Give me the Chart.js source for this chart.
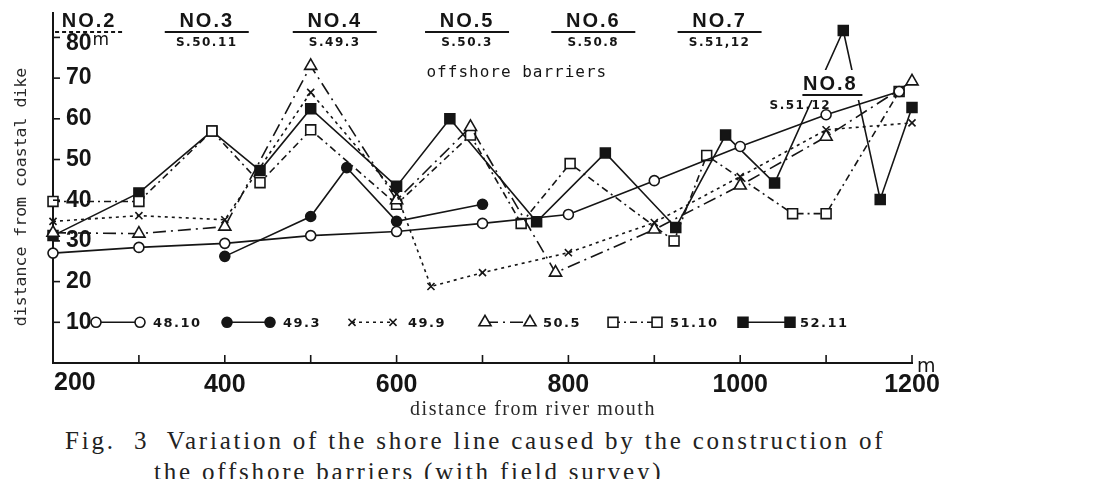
<!DOCTYPE html>
<html>
<head>
<meta charset="utf-8">
<script src="https://cdn.jsdelivr.net/npm/chart.js@4"></script>
<style>
  html, body { margin: 0; padding: 0; background: #fff; width: 1106px; height: 479px; overflow: hidden; }
  #wrap { position: relative; width: 1106px; height: 420px; }
  .cap { position: absolute; font-family: 'Liberation Serif', serif; font-size: 25px; line-height: 1;
         letter-spacing: 2.8px; color: #222; white-space: nowrap; }
</style>
</head>
<body>
<div id="wrap"><canvas id="c" width="1106" height="420"></canvas></div>
<div class="cap" style="left:65px; top:428px">Fig.&nbsp; 3&nbsp; Variation of the shore line caused by the construction of</div>
<div class="cap" style="left:154px; top:459px">the offshore barriers (with field survey)</div>
<script>
// survey dates (Showa year.month) and readings: distance from river mouth (m) -> distance from dike (m)
const seriesNames = ['48.10', '49.3', '49.9', '50.5', '51.10', '52.11'];

const x4810 = [200, 300, 400, 500, 600, 700, 800, 900, 1000, 1100, 1185];
const y4810 = [27, 28.4, 29.4, 31.3, 32.3, 34.3, 36.5, 44.8, 53.2, 61, 66.7];

const x493 = [400, 500, 542, 600, 700];
const y493 = [26.2, 36, 48, 34.8, 39];

const x499 = [200, 300, 400, 500, 600, 640, 700, 800, 900, 1000, 1100, 1200];
const y499 = [34.8, 36.2, 35.2, 66.5, 41.5, 18.8, 22.2, 27.1, 34.5, 45.8, 57.3, 59];

const x505 = [200, 300, 400, 500, 600, 686, 785, 900, 1000, 1100, 1200];
const y505 = [32, 31.8, 33.5, 73, 40, 58, 22.2, 32.8, 43.6, 55.6, 69.2];

const x5110 = [200, 300, 385, 441, 500, 600, 686, 745, 802, 923, 961, 1061, 1100, 1185];
const y5110 = [39.7, 39.7, 57, 44.3, 57.3, 39, 56, 34.3, 49, 30, 51, 36.7, 36.7, 66.7];

const x5211 = [200, 300, 385, 441, 500, 600, 662, 763, 843, 925, 983, 1040, 1120, 1163, 1200];
const y5211 = [31.3, 41.8, 57, 47.3, 62.5, 43.4, 60, 34.7, 51.6, 33.3, 56, 44.2, 81.7, 40.2, 62.8];

const xTicks = [200, 400, 600, 800, 1000, 1200];
const xMinor = [300, 500, 700, 900, 1100];
const yTicks = [10, 20, 30, 40, 50, 60, 70, 80];

// offshore barriers: name, completion date, location along the shore (m)
const barrierNames = ['NO.2', 'NO.3', 'NO.4', 'NO.5', 'NO.6', 'NO.7', 'NO.8'];
const barrierDates = ['', 'S.50.11', 'S.49.3', 'S.50.3', 'S.50.8', 'S.51,12', 'S.51.12'];
const barrierAt = [242, 379, 528, 682, 829, 976, 1105];

const ink = '#151515';
const tickFont = '"Liberation Sans", Arial, sans-serif';

const looks = [
  { pointStyle: 'circle',   filled: false, dash: [],            radius: 5 },
  { pointStyle: 'circle',   filled: true,  dash: [],            radius: 5 },
  { pointStyle: 'crossRot', filled: false, dash: [3, 4],        radius: 5 },
  { pointStyle: 'triangle', filled: false, dash: [13, 5, 2, 5], radius: 7 },
  { pointStyle: 'rect',     filled: false, dash: [7, 4, 2, 4],  radius: 7 },
  { pointStyle: 'rect',     filled: true,  dash: [],            radius: 7 },
];

const allX = [x4810, x493, x499, x505, x5110, x5211];
const allY = [y4810, y493, y499, y505, y5110, y5211];

const datasets = seriesNames.map((name, i) => ({
  label: name,
  data: allX[i].map((v, k) => ({ x: v, y: allY[i][k] })),
  borderColor: ink,
  borderWidth: 1.6,
  borderDash: looks[i].dash,
  pointStyle: looks[i].pointStyle,
  pointRadius: looks[i].radius,
  pointBorderColor: ink,
  pointBorderWidth: 1.6,
  pointBackgroundColor: looks[i].filled ? ink : '#fff',
  tension: 0,
  fill: false,
  clip: false,
}));

function marker(ctx, look, px, py) {
  ctx.save();
  ctx.setLineDash([]);
  ctx.fillStyle = look.filled ? ink : '#fff';
  ctx.strokeStyle = ink;
  ctx.lineWidth = 1.6;
  Chart.helpers.drawPoint(ctx, { pointStyle: look.pointStyle, radius: look.radius, rotation: 0, borderWidth: 1.6 }, px, py);
  ctx.restore();
}

// legend slots in pixels: first marker, second marker, text start
const legendSlots = [[96, 140, 153], [227, 270, 283], [352, 393, 408], [485, 530, 543], [613, 657, 670], [743, 790, 800]];

const overlay = {
  id: 'overlay',
  afterDatasetsDraw(chart) {
    const { ctx, chartArea: a, scales: { x, y } } = chart;
    ctx.save();
    ctx.strokeStyle = ink;
    ctx.fillStyle = ink;
    ctx.lineWidth = 1.6;
    ctx.setLineDash([]);

    // inward tick marks
    y.ticks.forEach(t => {
      if (t.value <= 0) return;
      const py = y.getPixelForValue(t.value);
      ctx.beginPath(); ctx.moveTo(a.left, py); ctx.lineTo(a.left + 7, py); ctx.stroke();
    });
    x.ticks.forEach(t => {
      if (t.value <= 200) return;
      const px = x.getPixelForValue(t.value);
      ctx.beginPath(); ctx.moveTo(px, a.bottom); ctx.lineTo(px, a.bottom - 8); ctx.stroke();
    });

    // first x label sits right of the corner
    ctx.font = 'bold 25px ' + tickFont;
    ctx.textAlign = 'left';
    ctx.textBaseline = 'middle';
    ctx.fillText(String(xTicks[0]), a.left + 1, a.bottom + 20);

    // top y label carries the unit, set a little lower under the NO.2 mark
    const topTick = yTicks[yTicks.length - 1];
    const ty80 = y.getPixelForValue(topTick) + 6;
    ctx.font = 'bold 23px ' + tickFont;
    ctx.fillText(String(topTick), a.left + 13, ty80);
    const w80 = ctx.measureText(String(topTick)).width;
    ctx.font = '17px "DejaVu Sans", sans-serif';
    ctx.fillText('m', a.left + 13 + w80 + 1, ty80 - 3);

    // barrier labels
    barrierNames.forEach((name, i) => {
      const cx = x.getPixelForValue(barrierAt[i]);
      const last = i === barrierNames.length - 1;
      const ty = last ? 84 : 21;
      ctx.textAlign = 'center';
      ctx.textBaseline = 'middle';
      ctx.font = 'bold 20px ' + tickFont;
      ctx.letterSpacing = '2px';
      if (last) {
        ctx.fillStyle = '#fff';
        ctx.fillRect(cx - 32, ty - 14, 66, 30);
        ctx.fillStyle = ink;
      }
      ctx.fillText(name, cx, ty);
      ctx.lineWidth = 2;
      if (i === 0) ctx.setLineDash([4, 3]);
      const half = i === 0 ? 34 : 42;
      ctx.beginPath();
      ctx.moveTo(cx - (last ? 28 : half), ty + 11);
      ctx.lineTo(cx + (last ? 32 : half), ty + 11);
      ctx.stroke();
      ctx.setLineDash([]);
      if (barrierDates[i]) {
        ctx.font = 'bold 12px "DejaVu Sans", sans-serif';
        ctx.letterSpacing = '1.5px';
        ctx.fillText(barrierDates[i], last ? cx - 30 : cx, ty + 22);
      }
    });
    ctx.letterSpacing = '1px';
    ctx.font = '16px "DejaVu Sans Mono", monospace';
    ctx.textAlign = 'center';
    ctx.fillText('offshore barriers', x.getPixelForValue(740), 73);

    // unit on the x axis
    ctx.letterSpacing = '0px';
    ctx.textAlign = 'left';
    ctx.font = '19px "DejaVu Sans", sans-serif';
    ctx.fillText('m', a.right + 5, a.bottom + 4);

    // legend inside the plot, on the 10 m line
    const ly = y.getPixelForValue(10);
    legendSlots.forEach((s, i) => {
      ctx.setLineDash(looks[i].dash);
      ctx.lineWidth = 1.6;
      ctx.beginPath(); ctx.moveTo(s[0], ly); ctx.lineTo(s[1], ly); ctx.stroke();
      marker(ctx, looks[i], s[0], ly);
      marker(ctx, looks[i], s[1], ly);
      ctx.setLineDash([]);
      ctx.font = 'bold 13px "DejaVu Sans", sans-serif';
      ctx.letterSpacing = '1.5px';
      ctx.textAlign = 'left';
      ctx.fillText(seriesNames[i], s[2], ly + 1);
    });

    // axis titles
    ctx.fillStyle = '#2a2a2a';
    ctx.letterSpacing = '0px';
    ctx.font = '16.5px "DejaVu Sans Mono", monospace';
    ctx.save();
    ctx.translate(22, 197);
    ctx.rotate(-Math.PI / 2);
    ctx.textAlign = 'center';
    ctx.fillText('distance from coastal dike', 0, 0);
    ctx.restore();
    ctx.font = '20px "Liberation Serif", serif';
    ctx.letterSpacing = '1.5px';
    ctx.textAlign = 'center';
    ctx.fillText('distance from river mouth', 533, 410);
    ctx.restore();
  }
};

new Chart(document.getElementById('c'), {
  type: 'line',
  data: { datasets },
  options: {
    responsive: false,
    animation: false,
    layout: { padding: { left: 0, right: 194, top: 13, bottom: 0 } },
    plugins: { legend: { display: false }, tooltip: { enabled: false } },
    scales: {
      x: {
        type: 'linear',
        min: 200,
        max: 1200,
        afterBuildTicks: s => { s.ticks = xTicks.concat(xMinor).sort((p, q) => p - q).map(v => ({ value: v })); },
        afterFit: s => { s.height = 57; s.paddingLeft = 0; s.paddingRight = 0; },
        grid: { display: false, drawTicks: false },
        border: { display: true, color: ink, width: 2 },
        ticks: {
          autoSkip: false,
          maxRotation: 0,
          padding: 7,
          color: ink,
          font: { family: tickFont, size: 25, weight: 'bold' },
          callback: v => (xTicks.includes(v) && v !== xTicks[0]) ? String(v) : '',
        },
      },
      y: {
        min: 0,
        max: 86,
        afterBuildTicks: s => { s.ticks = yTicks.map(v => ({ value: v })); },
        afterFit: s => { s.width = 53; s.paddingTop = 0; s.paddingBottom = 0; },
        grid: { display: false, drawTicks: false },
        border: { display: true, color: ink, width: 2 },
        ticks: {
          mirror: true,
          padding: 13,
          color: ink,
          font: { family: tickFont, size: 23, weight: 'bold' },
          callback: v => v === yTicks[yTicks.length - 1] ? '' : String(v),
        },
      },
    },
  },
  plugins: [overlay],
});
</script>
</body>
</html>
